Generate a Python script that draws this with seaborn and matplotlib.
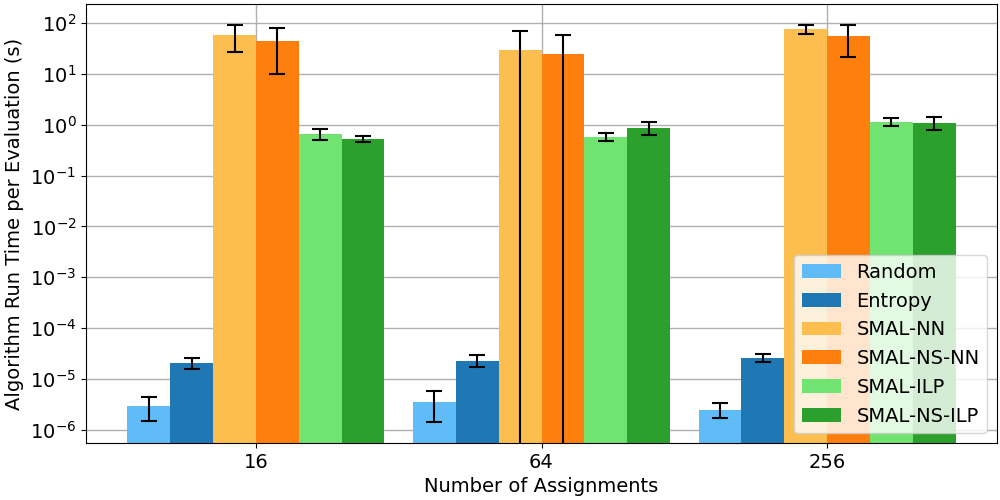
import numpy as np
import pandas as pd
import matplotlib
matplotlib.use("Agg")
import matplotlib.pyplot as plt
import seaborn as sns

groups = ["16", "64", "256"]
series = ["Random", "Entropy", "SMAL-NN", "SMAL-NS-NN", "SMAL-ILP", "SMAL-NS-ILP"]
means = {
    "Random":      [3.0e-6, 3.6e-6, 2.5e-6],
    "Entropy":     [2.1e-5, 2.3e-5, 2.6e-5],
    "SMAL-NN":     [58.6, 29.7, 76.9],
    "SMAL-NS-NN":  [44.8, 24.8, 56.0],
    "SMAL-ILP":    [0.665, 0.58, 1.15],
    "SMAL-NS-ILP": [0.53, 0.87, 1.09],
}
stds = {
    "Random":      [1.5e-6, 2.2e-6, 0.8e-6],
    "Entropy":     [0.5e-5, 0.6e-5, 0.45e-5],
    "SMAL-NN":     [32.0, 40.0, 16.0],
    "SMAL-NS-NN":  [35.0, 33.0, 35.0],
    "SMAL-ILP":    [0.16, 0.105, 0.22],
    "SMAL-NS-ILP": [0.075, 0.25, 0.31],
}
colors = ["#5fbcf8", "#1f77b4", "#fdbe50", "#ff7f0e", "#70e370", "#2ca02c"]

rows = []
for s in series:
    for g, m in zip(groups, means[s]):
        rows.append({"Assignments": g, "Method": s, "Time": m})
df = pd.DataFrame(rows)

fig, ax = plt.subplots(figsize=(10, 5), dpi=100)
fig.subplots_adjust(left=0.086, right=0.997, top=0.992, bottom=0.114)
ax.set_yscale("log")
sns.barplot(data=df, x="Assignments", y="Time", hue="Method", order=groups,
            hue_order=series, palette=colors, width=0.9, errorbar=None,
            saturation=1, ax=ax, zorder=2)

for cont, s in zip(ax.containers, series):
    xs = [p.get_x() + p.get_width() / 2 for p in cont.patches]
    ys = [p.get_height() for p in cont.patches]
    ax.errorbar(xs, ys, yerr=stds[s], fmt="none", ecolor="black",
                elinewidth=1.5, capsize=6, capthick=1.5, zorder=3)

ax.set_ylim(5.5e-7, 236)
ax.minorticks_off()
ax.yaxis.set_minor_locator(matplotlib.ticker.NullLocator())
ax.grid(True, color="#b0b0b0", linewidth=1, zorder=0)
ax.set_axisbelow(True)
ax.set_xlabel("Number of Assignments", fontsize=14)
ax.set_ylabel("Algorithm Run Time per Evaluation (s)", fontsize=14)
ax.tick_params(labelsize=14)
ax.legend(loc="lower right", fontsize=14)
fig.savefig("out.png", dpi=100)
